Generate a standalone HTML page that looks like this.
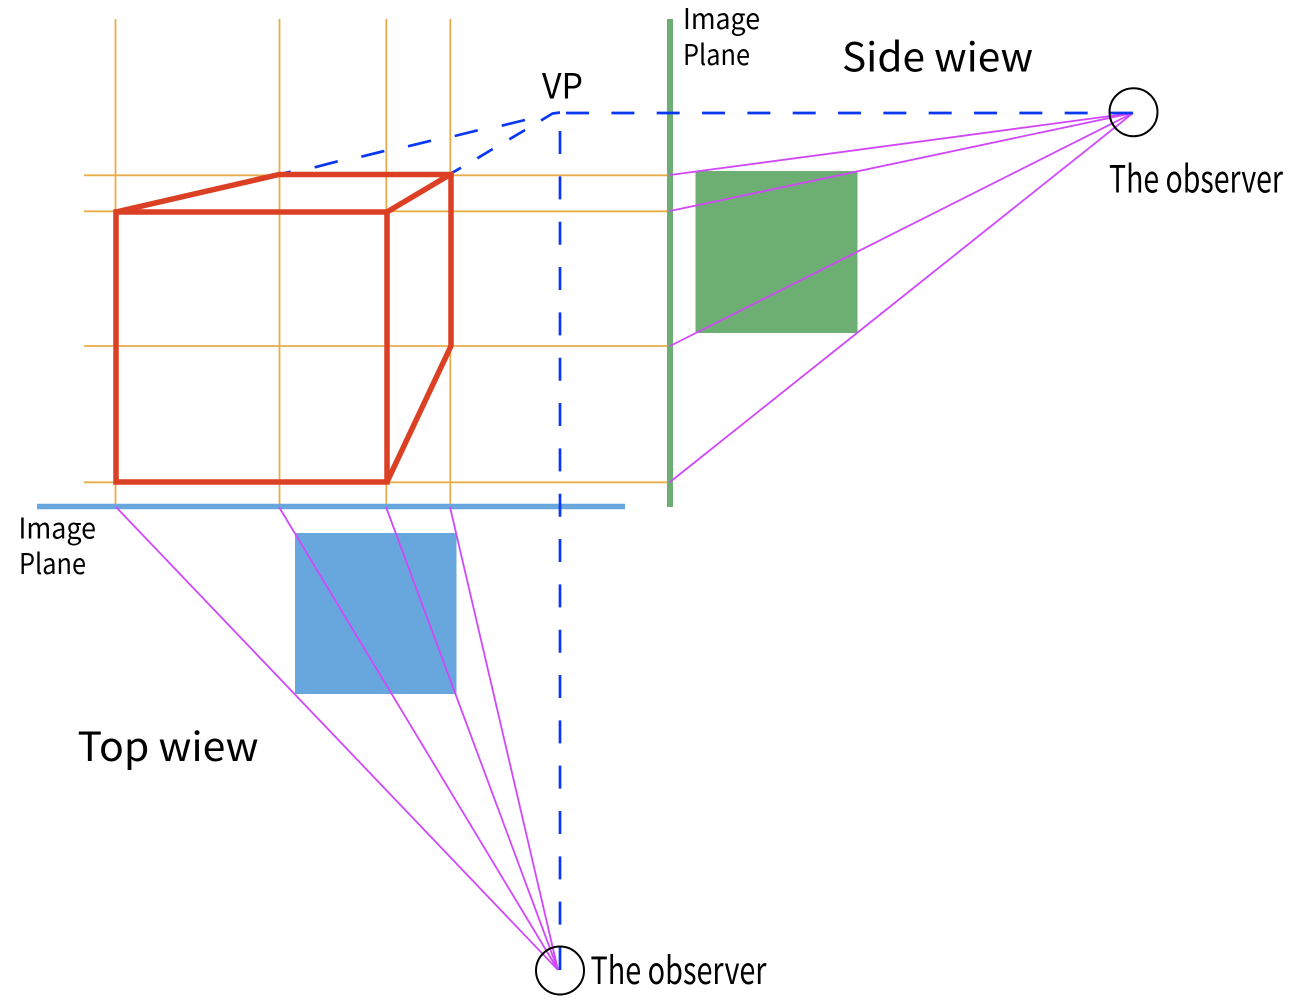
<!DOCTYPE html>
<html>
<head>
<meta charset="utf-8">
<style>
html,body{margin:0;padding:0;background:#fff;width:1305px;height:1007px;overflow:hidden}
svg{display:block;position:absolute;left:0;top:0}
text{font-family:"Noto Sans CJK JP","Liberation Sans",sans-serif;fill:#000}
</style>
</head>
<body>
<svg width="1305" height="1007" viewBox="0 0 1305 1007" xmlns="http://www.w3.org/2000/svg">
<rect x="695.500" y="171" width="162" height="162" fill="#6daf72"/>
<rect x="295" y="533" width="161.500" height="161" fill="#68a7dd"/>
<g stroke="#e8ad4a" stroke-width="1.800" fill="none">
<line x1="115.500" y1="19" x2="115.500" y2="507"/>
<line x1="279.500" y1="19" x2="279.500" y2="507"/>
<line x1="386.300" y1="19" x2="386.300" y2="507"/>
<line x1="450.300" y1="19" x2="450.300" y2="507"/>
<line x1="84" y1="175.300" x2="670" y2="175.300"/>
<line x1="84" y1="211.300" x2="670" y2="211.300"/>
<line x1="84" y1="346" x2="670" y2="346"/>
<line x1="84" y1="482.300" x2="670" y2="482.300"/>
</g>
<line x1="670" y1="19" x2="670" y2="507" stroke="#6daf72" stroke-width="6"/>
<line x1="37" y1="506.500" x2="625" y2="506.500" stroke="#68a7dd" stroke-width="5.500"/>
<g stroke="#d048fa" stroke-width="1.800" fill="none">
<line x1="670" y1="175" x2="1133" y2="113"/>
<line x1="670" y1="211" x2="1133" y2="113"/>
<line x1="670" y1="346" x2="1133" y2="113"/>
<line x1="670" y1="482" x2="1133" y2="113"/>
<line x1="116" y1="507" x2="558" y2="970"/>
<line x1="279" y1="507" x2="558" y2="970"/>
<line x1="386" y1="507" x2="558" y2="970"/>
<line x1="450" y1="507" x2="558" y2="970"/>
</g>
<g stroke="#0a37f2" stroke-width="2.700" fill="none">
<line x1="1133" y1="113" x2="566" y2="113" stroke-dasharray="23 22.330"/>
<line x1="560" y1="970" x2="560" y2="131" stroke-dasharray="23 22.330"/>
<polyline points="541,120.500 552.500,113.500 560,112.500"/>
<line x1="525" y1="130" x2="509.300" y2="139.300"/>
<line x1="492.700" y1="149" x2="477.300" y2="158.300"/>
<line x1="461" y1="167.700" x2="450" y2="174"/>
<line x1="525" y1="120" x2="501.700" y2="125.700"/>
<line x1="477.700" y1="130.300" x2="454.700" y2="136"/>
<line x1="431" y1="140.700" x2="408" y2="146.300"/>
<line x1="384.300" y1="151" x2="361.300" y2="156.700"/>
<line x1="337.700" y1="161.300" x2="314.700" y2="167.300"/>
<line x1="290.700" y1="171.700" x2="280" y2="174"/>
</g>
<g stroke="#db4024" stroke-width="5.500" fill="none" stroke-linejoin="bevel">
<rect x="116" y="212" width="271" height="270" stroke-linejoin="miter"/>
<polyline points="116,212 279,174.500 453,174.500"/>
<line x1="387" y1="212" x2="451" y2="174"/>
<polyline points="451,172 451,346 387,482"/>
</g>
<circle cx="1133.500" cy="112.200" r="24" fill="none" stroke="#000" stroke-width="2"/>
<circle cx="560" cy="970.500" r="24" fill="none" stroke="#000" stroke-width="2"/>
<text x="683" y="28.800" font-size="28.500" textLength="77" lengthAdjust="spacingAndGlyphs">Image</text>
<text x="683" y="65" font-size="28.500" textLength="67" lengthAdjust="spacingAndGlyphs">Plane</text>
<text x="18.500" y="538.300" font-size="28.500" textLength="77.500" lengthAdjust="spacingAndGlyphs">Image</text>
<text x="19" y="574" font-size="28.500" textLength="67" lengthAdjust="spacingAndGlyphs">Plane</text>
<text x="542" y="98.500" font-size="35" textLength="41" lengthAdjust="spacingAndGlyphs">VP</text>
<text x="842" y="71.300" font-size="40" textLength="191" lengthAdjust="spacingAndGlyphs">Side wiew</text>
<text x="77.500" y="761" font-size="40" textLength="181" lengthAdjust="spacingAndGlyphs">Top wiew</text>
<text x="1109" y="192.500" font-size="37.500" textLength="174" lengthAdjust="spacingAndGlyphs">The observer</text>
<text x="590.500" y="983.800" font-size="37.500" textLength="176" lengthAdjust="spacingAndGlyphs">The observer</text>
</svg>
</body>
</html>
